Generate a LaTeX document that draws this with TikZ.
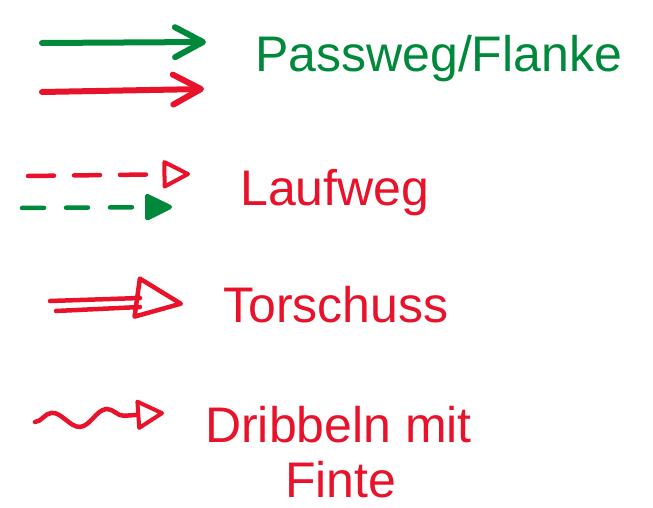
\documentclass[tikz,border=0pt]{standalone}
\usepackage{fontspec}
\setmainfont{Liberation Sans}
\usetikzlibrary{arrows.meta,decorations.pathmorphing,positioning}
\definecolor{passgreen}{HTML}{00893A}
\definecolor{markred}{HTML}{E8132A}
\tikzset{
  pass/.style={-{Straight Barb[length=28pt,width=30pt,line width=6pt,line cap=round,line join=round]}, line width=6pt, line cap=round},
  run/.style={-{Triangle[open,length=30pt,width=30pt,line width=4pt,line join=round]}, line width=4.5pt, line cap=round, dash pattern=on 26pt off 20pt},
  runfill/.style={-{Triangle[length=30pt,width=28pt,line join=round]}, line width=4.5pt, line cap=round, dash pattern=on 22pt off 22pt},
  shot/.style={line width=4.5pt, line cap=round},
  shothead/.style={-{Triangle[open,length=52pt,width=44pt,line width=4.5pt,line join=round]}, line width=4.5pt},
  dribble/.style={-{Triangle[open,length=30pt,width=32pt,line width=4pt,line join=round]}, line width=4.5pt, line cap=round,
    decorate, decoration={snake, amplitude=8pt, segment length=55pt, post length=24pt}},
  legend/.style={font=\fontsize{50}{56}\selectfont, inner sep=0pt, anchor=base west}
}

\begin{document}
\begin{tikzpicture}[x=1pt,y=-1pt]
  \useasboundingbox (0,0) rectangle (653,508);
  % Passweg / Flanke
  \coordinate (pgA) at (42,43);
  \coordinate (pgB) at (206,42);
  \coordinate (prA) at (42,92);
  \coordinate (prB) at (204,89);
  \draw[pass,passgreen] (pgA) -- (pgB);
  \draw[pass,markred] (prA) -- (prB);
  \node[legend,text=passgreen] (passtext) at (255,72) {Passweg/Flanke};
  % Laufweg
  \coordinate (lrA) at (28,176);
  \coordinate (lrB) at (190,174);
  \coordinate (lgA) at (22,208);
  \coordinate (lgB) at (172,207);
  \draw[run,markred] (lrA) -- (lrB);
  \draw[runfill,passgreen] (lgA) -- (lgB);
  \node[legend,text=markred] (lauftext) at (240,205) {Laufweg};
  % Torschuss
  \coordinate (tsA) at (50,301);
  \coordinate (tsB) at (56,311);
  \coordinate (tsC) at (140,298);
  \coordinate (tsD) at (140,307);
  \coordinate (tsE) at (183,304);
  \draw[shot,markred] (tsA) -- (tsC);
  \draw[shot,markred] (tsB) -- (tsD);
  \draw[shothead,markred] (tsC) -- (tsE);
  \node[legend,text=markred] (schusstext) at (223,322) {Torschuss};
  % Dribbeln mit Finte
  \coordinate (drA) at (35,422);
  \coordinate (drB) at (164,413);
  \draw[dribble,markred] (drA) -- (drB);
  \node[legend,text=markred] (dribtext) at (205,442) {Dribbeln mit};
  \node[legend,text=markred] (fintetext) at (285,497) {Finte};
\end{tikzpicture}
\end{document}
